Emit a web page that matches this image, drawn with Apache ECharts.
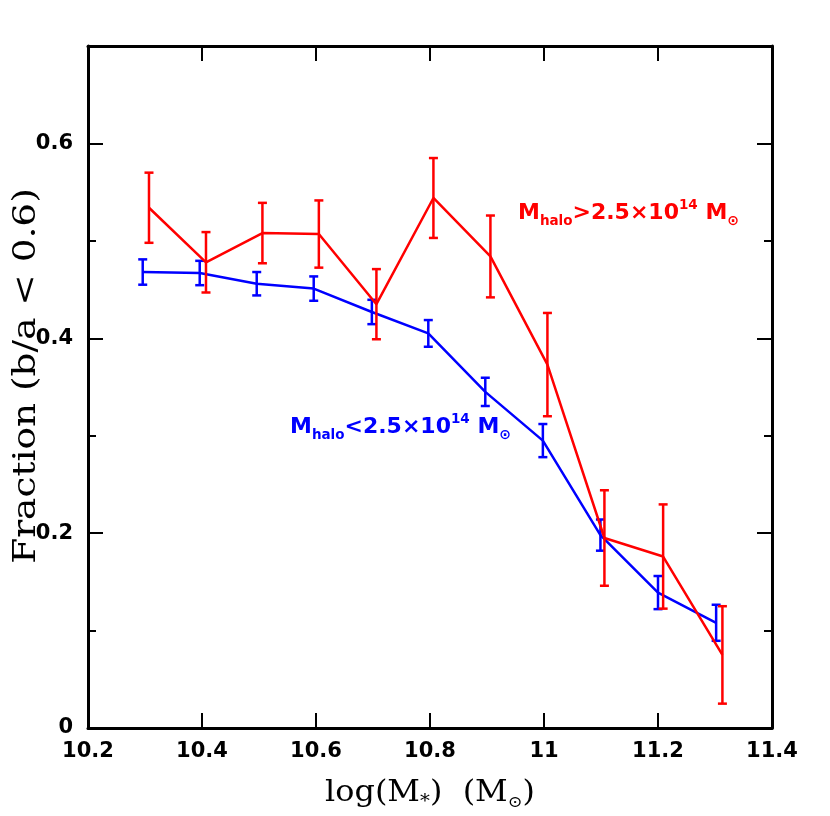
<!DOCTYPE html>
<html>
<head>
<meta charset="utf-8">
<script src="https://cdn.jsdelivr.net/npm/echarts@6/dist/echarts.min.js"></script>
<style>html,body{margin:0;padding:0;background:#fff}#c{width:830px;height:816px}</style>
</head>
<body>
<div id="c"></div>
<script>
// ---- data ----
const xTickVals = [10.2, 10.4, 10.6, 10.8, 11.0, 11.2, 11.4];
const xTickLabels = ['10.2', '10.4', '10.6', '10.8', '11', '11.2', '11.4'];
const yTickVals = [0, 0.2, 0.4, 0.6];
const yTickLabels = ['0', '0.2', '0.4', '0.6'];

const blueX   = [10.296, 10.396, 10.496, 10.596, 10.698, 10.797, 10.897, 10.998, 11.099, 11.200, 11.302];
const blueY   = [0.468, 0.467, 0.456, 0.451, 0.427, 0.405, 0.345, 0.295, 0.198, 0.139, 0.108];
const blueErr = [0.013, 0.0125, 0.012, 0.0125, 0.0125, 0.0137, 0.0145, 0.017, 0.016, 0.017, 0.0185];

const redX   = [10.307, 10.407, 10.506, 10.605, 10.706, 10.806, 10.906, 11.006, 11.106, 11.209, 11.313];
const redY   = [0.534, 0.478, 0.508, 0.507, 0.435, 0.544, 0.484, 0.373, 0.195, 0.176, 0.075];
const redErr = [0.036, 0.031, 0.031, 0.0345, 0.036, 0.041, 0.042, 0.053, 0.049, 0.0535, 0.050];

const blueLabel = 'M_halo<2.5×10^14 M_⊙';
const redLabel  = 'M_halo>2.5×10^14 M_⊙';

// ---- chart ----
const BLUE = '#0000ff', RED = '#ff0000';
const chart = echarts.init(document.getElementById('c'), null, {renderer: 'canvas'});

function pick(vals, labels, v) {
  for (let i = 0; i < vals.length; i++) if (Math.abs(vals[i] - v) < 1e-6) return labels[i];
  return '';
}
const tickFont = {fontFamily: 'DejaVu Sans', fontWeight: 'bold', fontSize: 21, color: '#000'};
const frameLine = {show: true, onZero: false, lineStyle: {color: '#000', width: 3}};

function xAx(pos, showLabel) {
  return {
    type: 'value', position: pos, min: 10.2, max: 11.4, interval: 0.2,
    axisLine: frameLine,
    axisTick: {show: true, inside: true, length: 15, lineStyle: {color: '#000', width: 2}},
    axisLabel: Object.assign({show: showLabel, margin: 13,
      formatter: v => pick(xTickVals, xTickLabels, v)}, tickFont),
    splitLine: {show: false}
  };
}
function yAx(pos, interval, len, showLabel, showLine) {
  return {
    type: 'value', position: pos, min: 0, max: 0.7, interval: interval,
    axisLine: showLine ? frameLine : {show: false},
    axisTick: {show: true, inside: true, length: len, lineStyle: {color: '#000', width: 2}},
    axisLabel: Object.assign({show: showLabel, margin: 15,
      formatter: v => pick(yTickVals, yTickLabels, v)}, tickFont),
    splitLine: {show: false}
  };
}

function errRender(color) {
  return function (params, api) {
    const x = api.value(0), y = api.value(1), e = api.value(2);
    const t = api.coord([x, y + e]), b = api.coord([x, y - e]);
    const w = 4.5;
    const st = {stroke: color, lineWidth: 2.5};
    return {type: 'group', children: [
      {type: 'line', shape: {x1: t[0], y1: t[1], x2: b[0], y2: b[1]}, style: st},
      {type: 'line', shape: {x1: t[0] - w, y1: t[1], x2: t[0] + w, y2: t[1]}, style: st},
      {type: 'line', shape: {x1: b[0] - w, y1: b[1], x2: b[0] + w, y2: b[1]}, style: st}
    ]};
  };
}

function richLabel(s) {
  // convert 'M_halo<2.5×10^14 M_⊙' to rich-text tokens
  const m = s.match(/^M_(\w+)(.*?)\^(\d+) M_(.)$/);
  return '{m|M}{sub|' + m[1] + '}{m|' + m[2] + '}{sup|' + m[3] + '}{m| M}{sun|' + m[4] + '}';
}
function annRich(color) {
  const base = {fill: color, fontFamily: 'DejaVu Sans', fontWeight: 'bold'};
  return {
    m: Object.assign({fontSize: 22, lineHeight: 30}, base),
    sub: Object.assign({fontSize: 13.5, lineHeight: 14, verticalAlign: 'bottom'}, base),
    sun: Object.assign({fontSize: 14, lineHeight: 19, verticalAlign: 'bottom'}, base),
    sup: Object.assign({fontSize: 13.5, lineHeight: 22, verticalAlign: 'top'}, base)
  };
}

const option = {
  animation: false,
  backgroundColor: '#fff',
  grid: {left: 88, right: 58, top: 46, bottom: 88},
  xAxis: [xAx('bottom', true), xAx('top', false)],
  yAxis: [
    yAx('left', 0.2, 15, true, true),
    yAx('left', 0.1, 8, false, false),
    yAx('right', 0.2, 15, false, true),
    yAx('right', 0.1, 8, false, false)
  ],
  series: [
    {type: 'line', xAxisIndex: 0, yAxisIndex: 0, symbol: 'none', z: 2,
     data: blueX.map((x, i) => [x, blueY[i]]),
     lineStyle: {color: BLUE, width: 2.5}},
    {type: 'custom', xAxisIndex: 0, yAxisIndex: 0, z: 2,
     renderItem: errRender(BLUE), encode: {x: 0, y: 1},
     data: blueX.map((x, i) => [x, blueY[i], blueErr[i]])},
    {type: 'line', xAxisIndex: 0, yAxisIndex: 0, symbol: 'none', z: 3,
     data: redX.map((x, i) => [x, redY[i]]),
     lineStyle: {color: RED, width: 2.5}},
    {type: 'custom', xAxisIndex: 0, yAxisIndex: 0, z: 3,
     renderItem: errRender(RED), encode: {x: 0, y: 1},
     data: redX.map((x, i) => [x, redY[i], redErr[i]])}
  ],
  graphic: [
    {type: 'text', x: 27, y: 376, rotation: Math.PI / 2, scaleX: 1.17,
     style: {text: 'Fraction (b/a < 0.6)', font: '32px "DejaVu Serif"', fill: '#000',
             textAlign: 'center', textVerticalAlign: 'middle'}},
    {type: 'text', x: 430, y: 793, scaleX: 1.1,
     style: {text: '{m|log(M}{st|*}{m|)  (M}{sd|⊙}{m|)}', fill: '#000',
             textAlign: 'center', textVerticalAlign: 'middle',
             rich: {
               m: {fontSize: 29, lineHeight: 36, fontFamily: 'DejaVu Serif', fill: '#000'},
               st: {fontSize: 18, lineHeight: 24, verticalAlign: 'bottom', fontFamily: 'DejaVu Serif', fill: '#000'},
               sd: {fontSize: 16, lineHeight: 14, verticalAlign: 'bottom', fontFamily: 'DejaVu Serif', fill: '#000'}
             }}},
    {type: 'text', x: 518, y: 213,
     style: {text: richLabel(redLabel), fill: RED, textAlign: 'left', textVerticalAlign: 'middle',
             rich: annRich(RED)}},
    {type: 'text', x: 290, y: 427,
     style: {text: richLabel(blueLabel), fill: BLUE, textAlign: 'left', textVerticalAlign: 'middle',
             rich: annRich(BLUE)}}
  ]
};
chart.setOption(option);
</script>
</body>
</html>
